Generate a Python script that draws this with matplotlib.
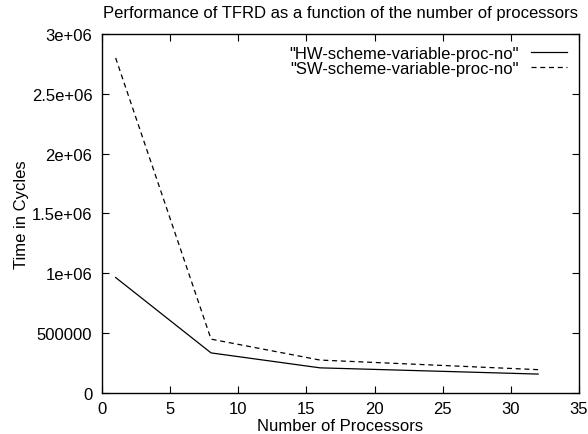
import matplotlib
matplotlib.use("Agg")
import matplotlib.pyplot as plt

plt.rcParams["font.family"] = ["Liberation Sans", "DejaVu Sans"]

procs = [1, 8, 16, 32]
hw_cycles = [965000, 335000, 210000, 158000]
sw_cycles = [2800000, 450000, 275000, 195000]

fig = plt.figure(figsize=(5.88, 4.35), dpi=100)
ax = fig.add_axes([0.1735, 0.0943, 0.8112, 0.8252])

ax.plot(procs, hw_cycles, color="black", lw=0.9,
        label='"HW-scheme-variable-proc-no"')
ax.plot(procs, sw_cycles, color="black", lw=0.9, linestyle=(0, (4, 3)),
        label='"SW-scheme-variable-proc-no"')

ax.set_xlim(0, 35)
ax.set_ylim(0, 3000000)
ax.set_xticks([0, 5, 10, 15, 20, 25, 30, 35])
ax.set_yticks([0, 500000, 1000000, 1500000, 2000000, 2500000, 3000000])
ax.set_yticklabels(["0", "500000", "1e+06", "1.5e+06", "2e+06", "2.5e+06", "3e+06"])
ax.tick_params(direction="in", top=True, right=True, length=5, labelsize=12)
ax.tick_params(axis="y", pad=7)
ax.tick_params(axis="x", pad=6)
for s in ax.spines.values():
    s.set_linewidth(1.0)

ax.set_xlabel("Number of Processors", fontsize=12, labelpad=1)
ax.set_ylabel("Time in Cycles", fontsize=12, labelpad=2)
ax.set_title("Performance of TFRD as a function of the number of processors",
             fontsize=12, pad=12)

ax.legend(loc="upper right", frameon=False, markerfirst=False, fontsize=12,
          handlelength=2.2, handletextpad=0.7, labelspacing=0.0,
          borderaxespad=0.3)

fig.savefig("out.png", dpi=100)
